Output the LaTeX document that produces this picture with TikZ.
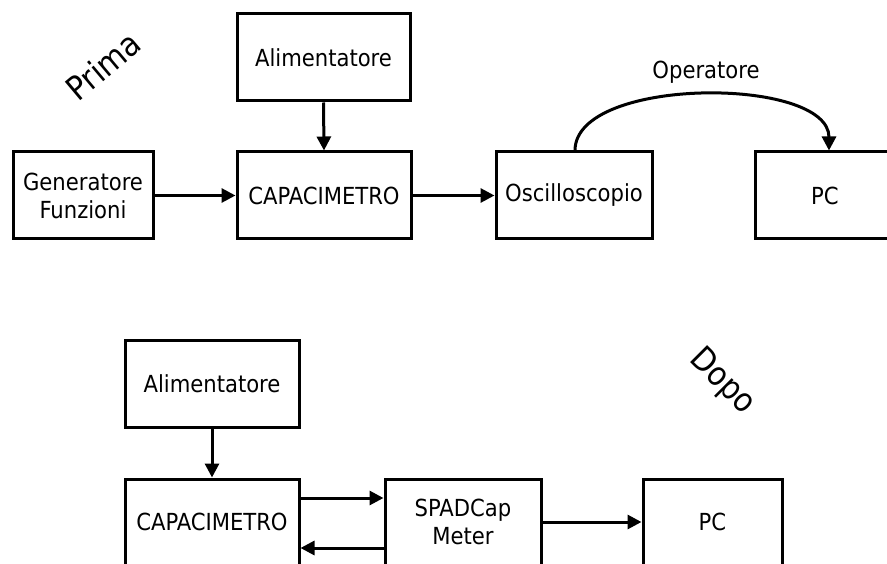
\documentclass[tikz,border=0pt]{standalone}
\usepackage{fontspec}
\setmainfont{DejaVu Sans Condensed}
\usetikzlibrary{arrows.meta}
\begin{document}
\begin{tikzpicture}[x=1pt,y=-1pt,
  box/.style={draw, line width=3pt, inner sep=0pt, align=center,
    minimum height=87pt, font=\fontsize{23.5}{28}\selectfont},
  arr/.style={line width=3pt, -{Triangle[length=14pt,width=14pt]}},
  lbl/.style={font=\fontsize{23.5}{28}\selectfont, inner sep=0pt},
  big/.style={font=\fontsize{33}{36}\selectfont, inner sep=0pt}]
\useasboundingbox (0,0) rectangle (887,564);
\clip (0,0) rectangle (887,564);
% top: Prima
\node[big, rotate=40] (prima) at (103,66) {Prima};
\node[box, minimum width=173pt] (alim1) at (323.5,57.5) {Alimentatore};
\node[box, minimum width=174pt] (cap1) at (324,195.5) {CAPACIMETRO};
\node[box, minimum width=140pt] (gen) at (83,195.5) {Generatore\\Funzioni};
\node[box, minimum width=156pt] (osc) at (574,195.5) {Oscilloscopio};
\node[box, minimum width=140pt] (pc1) at (825,195.5) {PC};
\node[lbl] (op) at (706,72) {Operatore};
\draw[arr] (alim1.south) -- (cap1.north);
\draw[arr] (gen.east) -- (cap1.west);
\draw[arr] (cap1.east) -- (osc.west);
\coordinate (pctop) at ([xshift=4pt]pc1.north);
\draw[arr] ([xshift=1pt]osc.north) .. controls (575,76) and (829,76) .. (pctop);
% bottom: Dopo
\node[big, rotate=-45] (dopo) at (722,382) {Dopo};
\node[box, minimum width=174pt, minimum height=86pt] (alim2) at (212,384) {Alimentatore};
\node[box, minimum width=174pt, minimum height=86pt] (cap2) at (212,522) {CAPACIMETRO};
\node[box, minimum width=156pt, minimum height=86pt] (spad) at (463,522) {SPADCap\\Meter};
\node[box, minimum width=139pt, minimum height=86pt] (pc2) at (712.5,522) {PC};
\draw[arr] (alim2.south) -- (cap2.north);
\draw[arr] ([yshift=24pt]cap2.east) -- ([yshift=24pt]spad.west);
\draw[arr] ([yshift=-26pt]spad.west) -- ([yshift=-26pt]cap2.east);
\draw[arr] (spad.east) -- (pc2.west);
\end{tikzpicture}
\end{document}
